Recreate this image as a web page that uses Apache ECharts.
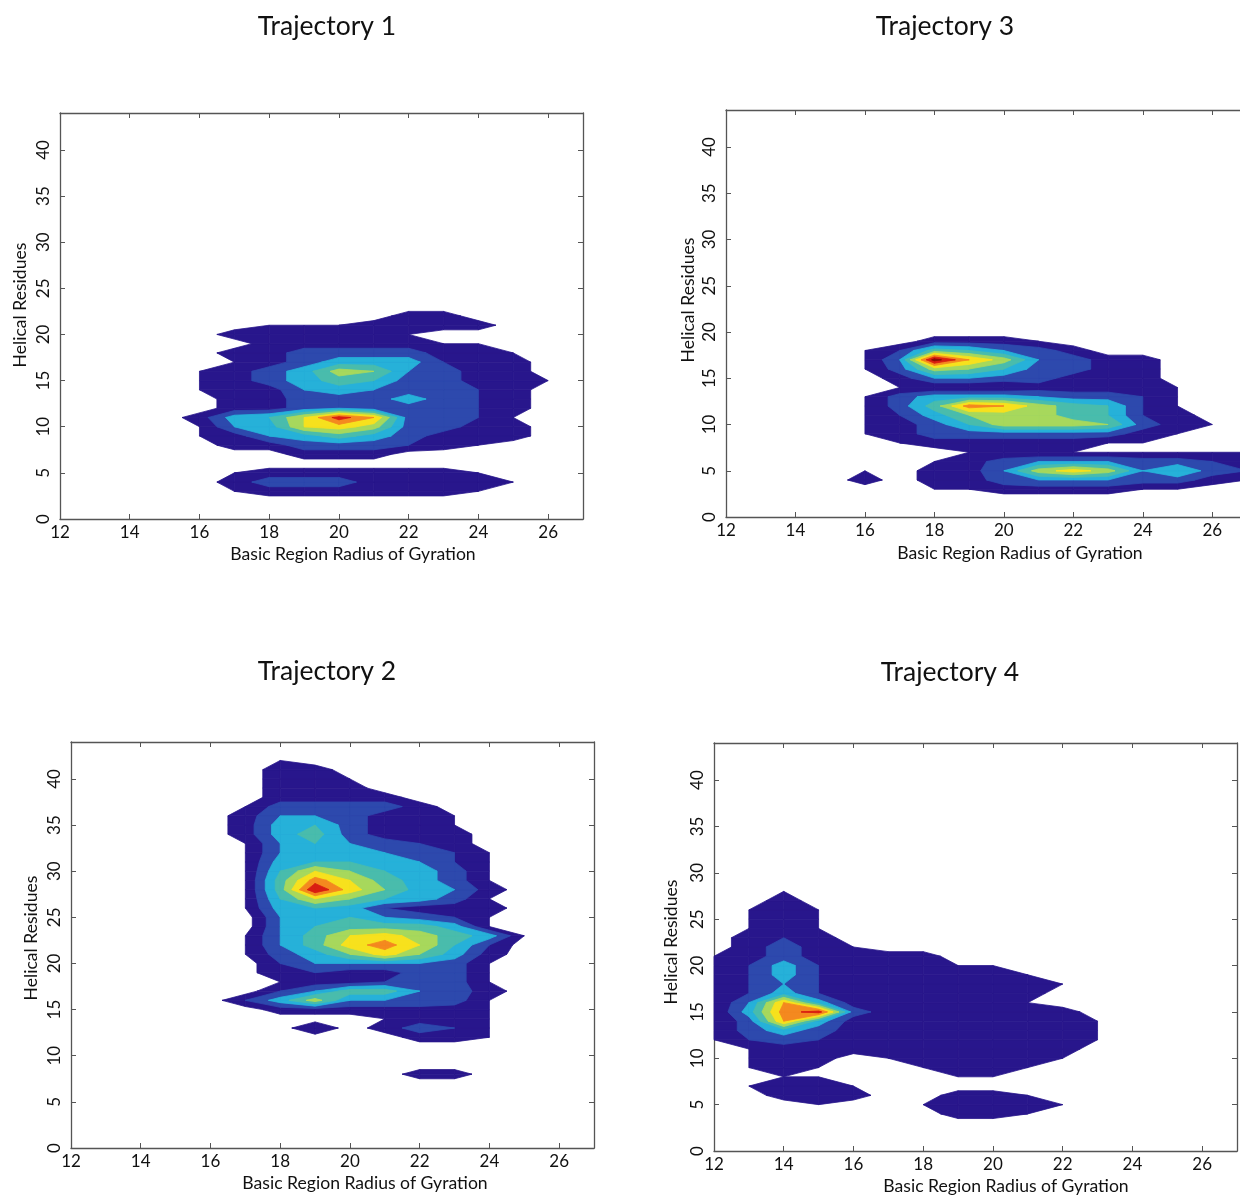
<!DOCTYPE html>
<html>
<head>
<meta charset="utf-8">
<script src="https://cdn.jsdelivr.net/npm/echarts@6/dist/echarts.min.js"></script>
<style>
html,body{margin:0;padding:0;background:#ffffff;}
#chart{width:1240px;height:1199px;}
</style>
</head>
<body>
<div id="chart"></div>
<script>
// ---------------- data ----------------
const xMin = 12, xMax = 27, yMin = 0, yMax = 44;
const xTickLabels = [12, 14, 16, 18, 20, 22, 24, 26];
const yTickLabels = [0, 5, 10, 15, 20, 25, 30, 35, 40];
const trajectoryNames = ['Trajectory 1', 'Trajectory 3', 'Trajectory 2', 'Trajectory 4'];
const xAxisName = 'Basic Region Radius of Gyration';
const yAxisName = 'Helical Residues';
// contour thresholds (density, doubled scale)
const contourLevels = [1, 3, 5, 7, 9, 11, 13, 15, 17];

// Density grid rows: one string per Helical-Residues value (top row first),
// one base-36 digit per Radius-of-Gyration value from 12 to 27.
const traj1TopY = 22;
const traj1Rows = [
  "0000000000220000",
  "0000001112222000",
  "0000022222100000",
  "0000002222211000",
  "0000022444422100",
  "0000012466632200",
  "00001246a9542200",
  "0000124687442210",
  "0000122565443200",
  "0000022444643200",
  "0000022454443200",
  "0000267bgd443100",
  "0000156bca442200",
  "0000125686422200",
  "0000022444321000",
  "0000000222000000",
  "0000000000000000",
  "0000012222221000",
  "0000024442222100",
  "0000012222221000"
];
const traj3TopY = 19;
const traj3Rows = [
  "0000002221000000",
  "0000138754200000",
  "000015ida5422000",
  "000014a974422000",
  "0000025544222000",
  "0000011112222100",
  "0000146665443100",
  "0000148eda873100",
  "00001369aa873200",
  "00001247aaa94210",
  "0000124444442100",
  "0000012222211000",
  "0000000111111111",
  "0000001245554432",
  "000010225aca5743",
  "0000202245554421",
  "0000001122221100"
];
const traj2TopY = 42;
const traj2Rows = [
  "0000001000000000",
  "0000002200000000",
  "0000002210000000",
  "0000002220000000",
  "0000002222000000",
  "0000014444200000",
  "0000025542210000",
  "0000026742210000",
  "0000026842220000",
  "0000015754320000",
  "0000015665431000",
  "0000016776531000",
  "0000017b97641000",
  "0000018eb8641000",
  "0000018hc9652000",
  "0000017b97641000",
  "0000016763222000",
  "0000005775431000",
  "0000005788861000",
  "00000158bca86100",
  "00000158ceb73000",
  "000001469c962000",
  "0000003555541000",
  "0000003322441000",
  "0000001223441000",
  "0000003588542000",
  "0000036a55541000",
  "0000002222221000",
  "0000000001221000",
  "0000000302431000",
  "0000000000221000",
  "0000000000000000",
  "0000000000000000",
  "0000000000000000",
  "0000000000220000"
];
const traj4TopY = 28;
const traj4Rows = [
  "0010000000000000",
  "0020000000000000",
  "0121000000000000",
  "0121000000000000",
  "0121000000000000",
  "0232000000000000",
  "0242100000000000",
  "1242222000000000",
  "1363222110000000",
  "1363222221000000",
  "1353222222100000",
  "1363222222000000",
  "15d6222221000000",
  "16eg422222200000",
  "14d6222222210000",
  "1464222222210000",
  "1343222222210000",
  "0122222222200000",
  "0122012222100000",
  "0121001221000000",
  "0011000110000000",
  "0122100000000000",
  "0022200221000000",
  "0001001222100000",
  "0000000221000000"
];

// ---------------- styles / layout ----------------
const levelColors = ['#28168c', '#2d49ad', '#26b1d9', '#49bcac', '#a7d85c',
                     '#f7e11d', '#f4891f', '#d91e12', '#8e0c06'];
const fontFamily = 'Lato, "Open Sans", sans-serif';
const axisColor = '#555555';
const textColor = '#111111';

const panelSources = [
  { top: traj1TopY, rows: traj1Rows },
  { top: traj3TopY, rows: traj3Rows },
  { top: traj2TopY, rows: traj2Rows },
  { top: traj4TopY, rows: traj4Rows }
];
const layout = [
  { grid: { left: 60,  top: 113, width: 523, height: 406 }, title: [327, 26],  xName: [353, 554],  yName: [20, 305] },
  { grid: { left: 726, top: 110, width: 521, height: 407 }, title: [945, 26],  xName: [1020, 553], yName: [688, 300] },
  { grid: { left: 71,  top: 742, width: 523, height: 406 }, title: [327, 671], xName: [365, 1183], yName: [31, 938] },
  { grid: { left: 714, top: 743, width: 523, height: 408 }, title: [950, 672], xName: [1006, 1186], yName: [671, 942] }
];

function decode(topY, rows) {
  const g = {};
  rows.forEach((r, i) => {
    const y = topY - i;
    for (let j = 0; j < r.length; j++) {
      const v = parseInt(r[j], 36);
      if (v) g[(xMin + j) + ',' + y] = v;
    }
  });
  return (x, y) => g[x + ',' + y] || 0;
}

function makeRender(t, color) {
  return function (params, api) {
    const x = api.value(0), y = api.value(1);
    const c = [
      [x, y, api.value(2)], [x + 1, y, api.value(3)],
      [x + 1, y + 1, api.value(4)], [x, y + 1, api.value(5)]
    ];
    const pts = [];
    for (let i = 0; i < 4; i++) {
      const a = c[i], b = c[(i + 1) % 4];
      const ain = a[2] > t, bin = b[2] > t;
      if (ain) pts.push(api.coord([a[0], a[1]]));
      if (ain !== bin) {
        const f = (t - a[2]) / (b[2] - a[2]);
        pts.push(api.coord([a[0] + (b[0] - a[0]) * f, a[1] + (b[1] - a[1]) * f]));
      }
    }
    if (pts.length < 3) return null;
    return {
      type: 'polygon', silent: true,
      shape: { points: pts },
      style: { fill: color, stroke: color, lineWidth: 0.8 }
    };
  };
}

const grids = [], xAxes = [], yAxes = [], series = [], graphics = [];
const lineStyle = { color: axisColor, width: 1.3 };

layout.forEach((L, i) => {
  grids.push(Object.assign({ containLabel: false, outerBoundsMode: 'none' }, L.grid));
  const xBase = {
    type: 'value', gridIndex: i, min: xMin, max: xMax, interval: 2,
    axisLine: { show: true, onZero: false, lineStyle: lineStyle },
    axisTick: { show: true, inside: true, length: 5, lineStyle: { color: axisColor, width: 1 } },
    splitLine: { show: false }
  };
  xAxes.push(Object.assign({}, xBase, {
    position: 'bottom',
    axisLabel: {
      show: true, margin: 5, fontSize: 17, fontFamily: fontFamily, color: textColor,
      formatter: v => (xTickLabels.indexOf(v) >= 0 ? String(v) : '')
    }
  }));
  xAxes.push(Object.assign({}, xBase, { position: 'top', axisLabel: { show: false } }));
  const yBase = {
    type: 'value', gridIndex: i, min: yMin, max: yMax, interval: 5,
    axisLine: { show: true, onZero: false, lineStyle: lineStyle },
    axisTick: { show: true, inside: true, length: 5, lineStyle: { color: axisColor, width: 1 } },
    splitLine: { show: false }
  };
  yAxes.push(Object.assign({}, yBase, {
    position: 'left',
    axisLabel: {
      show: true, rotate: 90, margin: 8, fontSize: 17, fontFamily: fontFamily, color: textColor,
      formatter: v => (yTickLabels.indexOf(v) >= 0 ? String(v) : '')
    }
  }));
  yAxes.push(Object.assign({}, yBase, { position: 'right', axisLabel: { show: false } }));

  const src = panelSources[i];
  const val = decode(src.top, src.rows);
  const cells = [];
  for (let y = yMin; y < yMax; y++) {
    for (let x = xMin; x < xMax; x++) {
      const c = [val(x, y), val(x + 1, y), val(x + 1, y + 1), val(x, y + 1)];
      if (Math.max.apply(null, c) > 0) cells.push([x, y].concat(c));
    }
  }
  contourLevels.forEach((t, k) => {
    series.push({
      type: 'custom', coordinateSystem: 'cartesian2d',
      xAxisIndex: 2 * i, yAxisIndex: 2 * i,
      data: cells.filter(c => Math.max(c[2], c[3], c[4], c[5]) > t),
      encode: { x: 0, y: 1 },
      renderItem: makeRender(t, levelColors[k]),
      animation: false, silent: true, progressive: 0, z: 2
    });
  });

  const txt = (pos, text, size, rot) => ({
    type: 'text', x: pos[0], y: pos[1], rotation: rot || 0, silent: true,
    style: {
      text: text, fontSize: size, fontFamily: fontFamily, fill: textColor,
      align: 'center', verticalAlign: 'middle', textAlign: 'center', textVerticalAlign: 'middle'
    }
  });
  graphics.push(txt(L.title, trajectoryNames[i], 26.5));
  graphics.push(txt(L.xName, xAxisName, 17.6));
  graphics.push(txt(L.yName, yAxisName, 17.6, Math.PI / 2));
});

const chart = echarts.init(document.getElementById('chart'), null, { renderer: 'canvas' });
chart.setOption({
  backgroundColor: '#ffffff',
  animation: false,
  grid: grids,
  xAxis: xAxes,
  yAxis: yAxes,
  series: series,
  graphic: graphics
});
</script>
</body>
</html>
